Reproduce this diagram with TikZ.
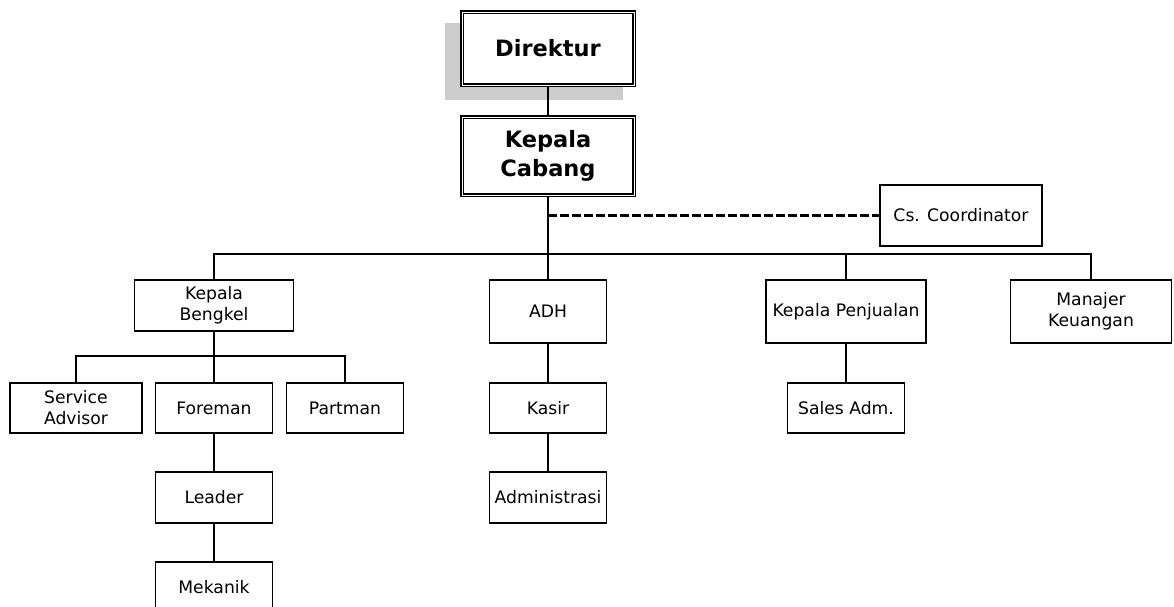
\documentclass[tikz,border=0pt]{standalone}
\usepackage{fontspec}
\setmainfont{DejaVu Sans}
\tikzset{every picture/.style={line width=0.75pt}}
\tikzset{
  unit/.style={draw, line width=1.5, minimum width=117, minimum height=50, inner sep=0pt, align=center, font=\fontsize{17.2}{21}\selectfont},
  head/.style={unit, fill=white, double, line width=1.2, double distance=1, minimum width=172, font=\bfseries\fontsize{22.5}{29}\selectfont},
  link/.style={line width=1.5},
  dashlink/.style={line width=2.5, dash pattern={on 9pt off 3pt}},
}
\begin{document}
\begin{tikzpicture}[x=1pt,y=1pt,yscale=-1,xscale=1]
\clip (0,0) rectangle (1174,606);

%Shape: Rectangle (shadow)
\fill [gray!40] (445,23) rectangle (623,100);

% Text Node
\node [head, minimum height=73] (dir) at (548,48.5) {Direktur};
% Text Node
\node [head, minimum height=78] (kacab) at (548,156) {Kepala\\Cabang};
% Text Node
\node [unit, minimum width=162, minimum height=61] (cs) at (961,215.5) {Cs. Coordinator};

% Text Node
\node [unit, minimum width=159, minimum height=51] (kaben) at (214,305.5) {Kepala\\Bengkel};
% Text Node
\node [unit, minimum height=63] (adh) at (548,311.5) {ADH};
% Text Node
\node [unit, minimum width=160, minimum height=63] (kapen) at (846,311.5) {Kepala Penjualan};
% Text Node
\node [unit, minimum width=161, minimum height=63] (manku) at (1091,311.5) {Manajer\\Keuangan};

% Text Node
\node [unit, minimum width=132] (sa) at (76,408) {Service\\Advisor};
% Text Node
\node [unit] (fore) at (214,408) {Foreman};
% Text Node
\node [unit] (part) at (345,408) {Partman};
% Text Node
\node [unit] (kasir) at (548,408) {Kasir};
% Text Node
\node [unit] (sales) at (846,408) {Sales Adm.};

% Text Node
\node [unit, minimum height=51] (leader) at (214,497.5) {Leader};
% Text Node
\node [unit, minimum height=51] (admin) at (548,497.5) {Administrasi};
% Text Node
\node [unit, minimum height=51] (mek) at (214,587.5) {Mekanik};

%Straight Lines
\coordinate (bus) at (548,254);
\coordinate (subbus) at (214,356);
\coordinate (csjoin) at (kacab.south |- cs.west);
\draw [link] (dir) -- (kacab);
\draw [link] (kacab) -- (adh);
\draw [link] (kaben.north) |- (bus) -| (manku.north);
\draw [link] (kapen.north) |- (bus);
\draw [dashlink] (csjoin) -- (cs.west);
\draw [link] (kaben) -- (fore);
\draw [link] (sa.north) |- (subbus) -| (part.north);
\draw [link] (fore) -- (leader);
\draw [link] (leader) -- (mek);
\draw [link] (adh) -- (kasir);
\draw [link] (kasir) -- (admin);
\draw [link] (kapen) -- (sales);

\end{tikzpicture}
\end{document}
